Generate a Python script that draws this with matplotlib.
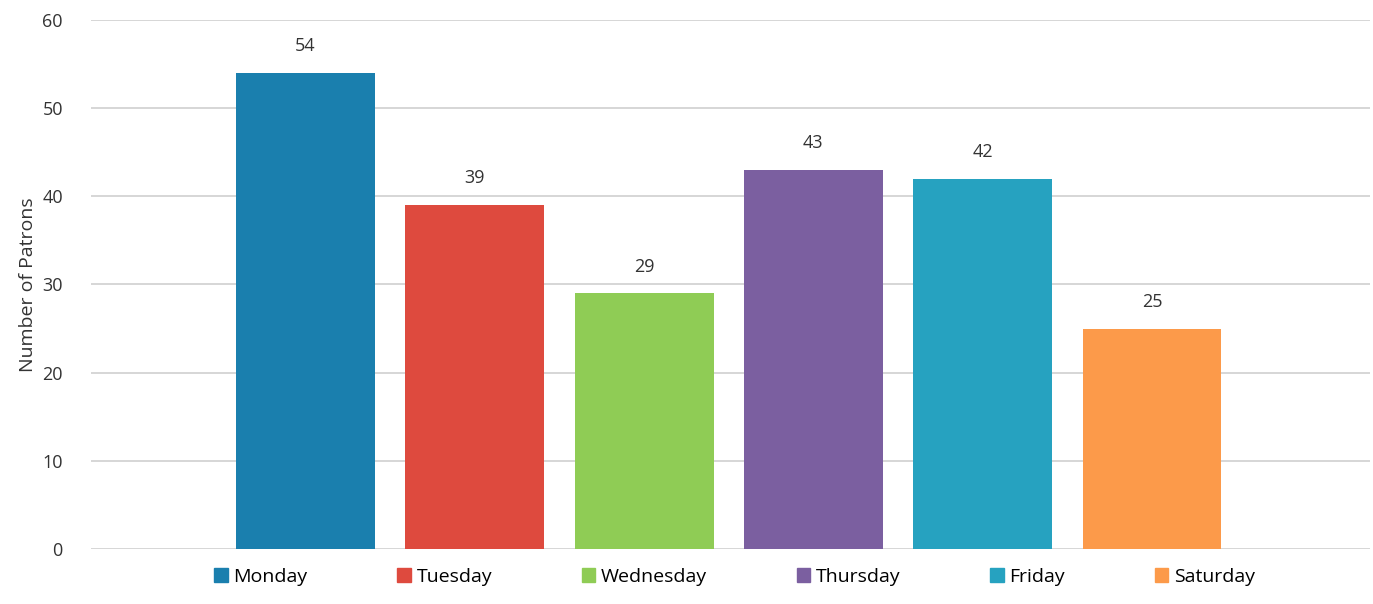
import matplotlib.pyplot as plt
from matplotlib.patches import Patch

plt.rcParams['font.family'] = ['Open Sans', 'DejaVu Sans']

days = ['Monday', 'Tuesday', 'Wednesday', 'Thursday', 'Friday', 'Saturday']
patrons = [54, 39, 29, 43, 42, 25]
colors = ['#1a7fae', '#de4a3e', '#8fcc55', '#7b5fa0', '#26a2c0', '#fc9a4a']

fig = plt.figure(figsize=(13.73, 6.04), dpi=100)
ax = fig.add_axes([0.066, 0.091, 0.932, 0.876])

x = range(len(days))
bars = ax.bar(x, patrons, width=0.82, color=colors, zorder=2)
for b, v in zip(bars, patrons):
    ax.text(b.get_x() + b.get_width() / 2, v + 2, str(v), ha='center', va='bottom',
            fontsize=13, color='#333333')

ax.set_xlim(-1.27, 6.29)
ax.set_ylim(0, 60)
ax.set_yticks(range(0, 61, 10))
ax.tick_params(axis='y', length=0, labelsize=13, labelcolor='#333333', pad=20)
ax.set_xticks([])
ax.grid(axis='y', color='#d0d0d0', linewidth=1.2, zorder=0)
for s in ax.spines.values():
    s.set_visible(False)
ax.set_ylabel('Number of Patrons', fontsize=14, color='#333333', labelpad=4)

handles = [Patch(color=c, label=d) for c, d in zip(colors, days)]
fig.legend(handles=handles, loc='center', bbox_to_anchor=(0.535, 0.045), ncol=6,
           frameon=False, fontsize=14, handlelength=0.7, handleheight=0.7,
           handletextpad=0.3, columnspacing=4.6)

fig.savefig('out.png', dpi=100)
